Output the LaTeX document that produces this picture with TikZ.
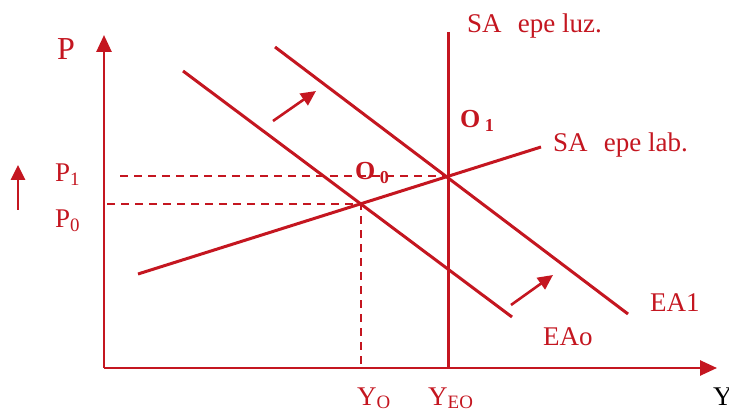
\documentclass[tikz,border=0pt]{standalone}
\usepackage{fontspec}
\setmainfont{Liberation Serif}
\usetikzlibrary{arrows.meta}
\definecolor{ecored}{RGB}{196,22,32}

\begin{document}
\begin{tikzpicture}[x=1pt,y=-1pt,
        curve/.style={ecored,line width=3pt},
        guide/.style={ecored,line width=2pt,dash pattern=on 8pt off 6pt},
        axis/.style={ecored,line width=2.6pt,-{Triangle[length=17pt,width=15pt]}},
        shiftarrow/.style={ecored,line width=2.6pt,-{Triangle[length=15pt,width=14pt]}},
        lbl/.style={text=ecored,inner sep=0pt,anchor=base west,font=\fontsize{27}{30}\selectfont},
        eqlbl/.style={lbl,font=\fontsize{26}{30}\selectfont\bfseries}]
        \useasboundingbox (0,0) rectangle (729,414);
        % axes
        \coordinate (orig) at (104,368);
        \coordinate (ptop) at (104,35);
        \coordinate (yend) at (717,368);
        \draw[axis] (orig) -- (ptop);
        \draw[axis] (orig) -- (yend);
        % curves
        \coordinate (luztop) at (448,32);
        \coordinate (luzbot) at (448,368);
        \coordinate (labA) at (138,274);
        \coordinate (labB) at (541,147);
        \coordinate (eazeroA) at (183,71);
        \coordinate (eazeroB) at (512,317);
        \coordinate (eaoneA) at (275,47);
        \coordinate (eaoneB) at (628,314);
        \coordinate (ozero) at (intersection of labA--labB and eazeroA--eazeroB);
        \coordinate (oone) at (intersection of labA--labB and luztop--luzbot);
        \draw[curve] (luztop) -- (luzbot);
        \draw[curve] (labA) -- (labB);
        \draw[curve] (eazeroA) -- (eazeroB);
        \draw[curve] (eaoneA) -- (eaoneB);
        % guides
        \coordinate (ponetick) at (120,0);
        \coordinate (pzerotick) at (107,0);
        \draw[guide] (ponetick |- oone) -- (oone);
        \draw[guide] (pzerotick |- ozero) -- (ozero) -- (ozero |- orig);
        % shifts
        \coordinate (riseA) at (18,210);
        \coordinate (riseB) at (18,165);
        \coordinate (upA) at (273,121);
        \coordinate (upB) at (316,91);
        \coordinate (downA) at (511,305);
        \coordinate (downB) at (553,275);
        \draw[shiftarrow] (riseA) -- (riseB);
        \draw[shiftarrow] (upA) -- (upB);
        \draw[shiftarrow] (downA) -- (downB);
        % labels
        \node[lbl,font=\fontsize{32}{36}\selectfont] (plbl) at (57,60) {P};
        \node[lbl] (ponelbl) at (55,182) {P\textsubscript{1}};
        \node[lbl] (pzerolbl) at (55,228) {P\textsubscript{0}};
        \node[lbl] (luzlbl) at (467,33) {SA\hspace{0.6em}epe luz.};
        \node[lbl] (lablbl) at (553,152) {SA\hspace{0.6em}epe lab.};
        \node[eqlbl] (oonelbl) at (460,128) {O\,\textsubscript{1}};
        \node[eqlbl] (ozerolbl) at (355,180) {O\,\textsubscript{0}};
        \node[lbl] (eaonelbl) at (650,312) {EA1};
        \node[lbl] (eazerolbl) at (543,345) {EAo};
        \node[lbl] (yzerolbl) at (357,405) {Y\textsubscript{O}};
        \node[lbl] (yeolbl) at (428,405) {Y\textsubscript{EO}};
        \node[lbl,text=black] (ylbl) at (713,405) {Y};
\end{tikzpicture}
\end{document}
